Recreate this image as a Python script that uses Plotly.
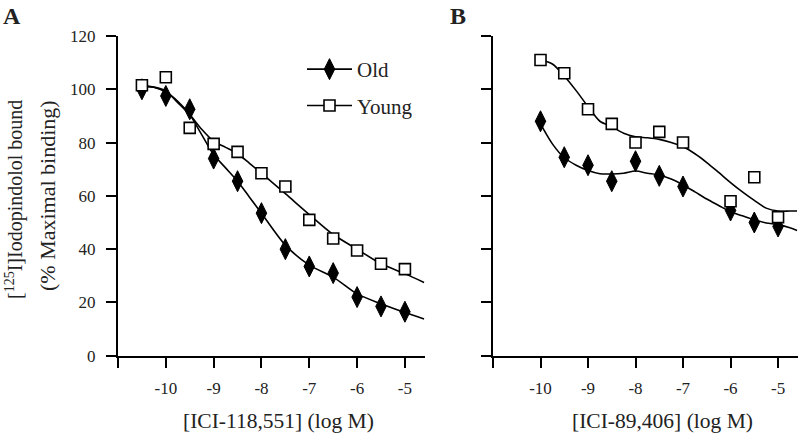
import plotly.graph_objects as go

# ---- Data ----
x_A = [-10.5, -10, -9.5, -9, -8.5, -8, -7.5, -7, -6.5, -6, -5.5, -5]
old_A = [100, 97.5, 92.5, 74, 65.5, 53.5, 40, 33.5, 31, 22, 18.5, 16.5]
young_A = [101.5, 104.5, 85.5, 79.5, 76.5, 68.5, 63.5, 51, 44, 39.5, 34.5, 32.5]

fitx_A = [-10.5, -10.25, -10, -9.75, -9.5, -9.25, -9, -8.75, -8.5, -8.25, -8,
          -7.5, -7, -6.5, -6, -5.5, -5, -4.6]
fit_old_A = [101.5, 100.8, 99, 95.5, 90.5, 83, 75.5, 70.5, 65.5, 59.5, 53.5,
             41.5, 34, 29.5, 23.2, 19.5, 16.2, 13.8]
fit_young_A = [101, 100.8, 99.3, 95, 90.5, 85, 80.5, 78.2, 75.8, 72.2, 68.5,
               60.8, 53, 45.5, 40, 34.5, 30.8, 27.5]

x_B = [-10, -9.5, -9, -8.5, -8, -7.5, -7, -6, -5.5, -5]
old_B = [88, 74.5, 71.5, 65.5, 73, 67.5, 63.5, 54.5, 50, 48.5]
young_B = [111, 106, 92.5, 87, 80, 84, 80, 58, 67, 52]

fitx_B = [-10, -9.75, -9.5, -9.25, -9, -8.75, -8.5, -8.25, -8, -7.75, -7.5,
          -7.25, -7, -6.75, -6.5, -6.25, -6, -5.75, -5.5, -5.25, -5, -4.75, -4.6]
fit_old_B = [87, 79.5, 74.3, 71.5, 69.5, 68.3, 68.2, 68.5, 69.3, 68.5, 67.8,
             66.3, 64.1, 61.5, 58.8, 56.4, 54, 52.5, 51, 49.8, 49.2, 48, 47]
fit_young_B = [111, 109.5, 105, 99.5, 93.5, 88, 86, 83.5, 82.2, 81.8, 81.2,
               80, 78.4, 75.8, 72.5, 68.8, 65, 61.5, 58.3, 55.4, 54.3, 54.3, 54.3]

tick_vals = [-11, -10, -9, -8, -7, -6, -5]
tick_text = [" ", "-10", "-9", "-8", "-7", "-6", "-5"]
y_ticks = [0, 20, 40, 60, 80, 100, 120]

FONT = "Liberation Serif, Times New Roman, Times, serif"
W, H = 800, 436

fig = go.Figure()

line_style = dict(color="black", width=1.6, shape="spline", smoothing=0.8)
old_marker = dict(symbol="diamond-tall", size=15, color="black",
                  line=dict(color="black", width=1))
young_marker = dict(symbol="square", size=11, color="white",
                    line=dict(color="black", width=1.6))

for xa, ya, fx, fo, fyy, xo, yo, suf in [
    ("x", "y", fitx_A, fit_old_A, fit_young_A, x_A, (old_A, young_A), "A"),
    ("x2", "y2", fitx_B, fit_old_B, fit_young_B, x_B, (old_B, young_B), "B"),
]:
    fig.add_trace(go.Scatter(x=fx, y=fo, mode="lines", line=line_style,
                             xaxis=xa, yaxis=ya, showlegend=False, hoverinfo="skip"))
    fig.add_trace(go.Scatter(x=fx, y=fyy, mode="lines", line=line_style,
                             xaxis=xa, yaxis=ya, showlegend=False, hoverinfo="skip"))
    fig.add_trace(go.Scatter(x=xo, y=yo[0], mode="markers", marker=old_marker,
                             xaxis=xa, yaxis=ya, showlegend=False, name="Old " + suf))
    fig.add_trace(go.Scatter(x=xo, y=yo[1], mode="markers", marker=young_marker,
                             xaxis=xa, yaxis=ya, showlegend=False, name="Young " + suf))

# legend entries
fig.add_trace(go.Scatter(x=[None], y=[None], mode="lines+markers", name="Old",
                         line=dict(color="black", width=1.6), marker=old_marker,
                         legendgroup="o"))
fig.add_trace(go.Scatter(x=[None], y=[None], mode="lines+markers", name="Young",
                         line=dict(color="black", width=1.6), marker=young_marker,
                         legendgroup="y"))

y0_px, y1_px = 355.7, 36.0
ydom = [1 - y0_px / H, 1 - y1_px / H]

xcommon = dict(range=[-11, -4.58], tickvals=tick_vals, ticktext=tick_text,
               showline=True, linecolor="black", linewidth=2, ticks="outside",
               ticklen=10, tickwidth=2, tickcolor="black", showgrid=False,
               zeroline=False, tickfont=dict(family=FONT, size=17, color="#222"),
               ticklabelstandoff=6)
ycommon = dict(range=[0, 120], tickvals=y_ticks, domain=ydom, showline=True,
               linecolor="black", linewidth=2, ticks="outside", ticklen=10,
               tickwidth=2, tickcolor="black", showgrid=False, zeroline=False,
               tickfont=dict(family=FONT, size=17, color="#222"))

fig.update_layout(
    width=W, height=H, template="none",
    paper_bgcolor="white", plot_bgcolor="white",
    margin=dict(l=0, r=0, t=0, b=0),
    xaxis=dict(xcommon, domain=[118 / W, 425 / W], anchor="y"),
    yaxis=dict(ycommon, anchor="x", ticklabelstandoff=7),
    xaxis2=dict(xcommon, domain=[493 / W, 798 / W], anchor="y2"),
    yaxis2=dict(ycommon, anchor="x2", showticklabels=False),
    showlegend=True,
    legend=dict(x=302 / W, y=1 - 49 / H, xanchor="left", yanchor="top",
                bgcolor="rgba(0,0,0,0)", tracegroupgap=6, itemwidth=45,
                font=dict(family=FONT, size=21, color="#222")),
    font=dict(family=FONT, color="#222"),
)

ann = [
    dict(text="<b>A</b>", x=2 / W, y=1 - 2 / H, xanchor="left", yanchor="top",
         font=dict(size=24)),
    dict(text="<b>B</b>", x=449 / W, y=1 - 2 / H, xanchor="left", yanchor="top",
         font=dict(size=24)),
    dict(text="[ICI-118,551] (log M)", x=278 / W, y=1 - 421 / H,
         xanchor="center", yanchor="middle", font=dict(size=21.5)),
    dict(text="[ICI-89,406] (log M)", x=662 / W, y=1 - 421 / H,
         xanchor="center", yanchor="middle", font=dict(size=21.5)),
    dict(text="[<sup>125</sup>I]Iodopindolol bound", x=14 / W, y=1 - 200 / H,
         xanchor="center", yanchor="middle", textangle=-90, font=dict(size=20)),
    dict(text="(% Maximal binding)", x=47 / W, y=1 - 196 / H,
         xanchor="center", yanchor="middle", textangle=-90, font=dict(size=22)),
]
for a in ann:
    a.update(xref="paper", yref="paper", showarrow=False, borderpad=0)
    a["font"] = dict(family=FONT, color="#222", **a["font"])
fig.update_layout(annotations=ann)

fig.write_html("out.html", config={"displayModeBar": False},
               post_script="document.body.style.margin='0';document.body.style.overflow='hidden';")
